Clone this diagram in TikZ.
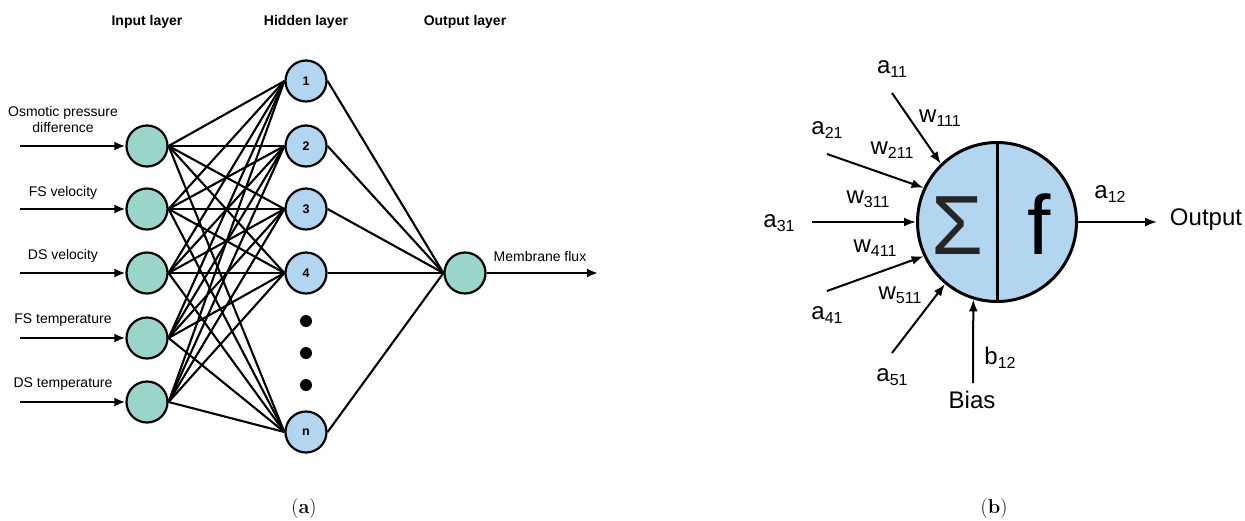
\documentclass[tikz,border=0pt]{standalone}
\usepackage{fontspec}
\newfontfamily\arial{Liberation Sans}
\usetikzlibrary{arrows.meta}
\definecolor{ingreen}{HTML}{99D6C9}
\definecolor{hidblue}{HTML}{B3D6F0}
\newcommand\sbs[1]{\raisebox{-0.15em}{\fontsize{16}{16}\selectfont #1}}
\begin{document}
\begin{tikzpicture}[x=1pt,y=-1pt,
  neuron/.style={circle,draw,line width=2.2pt,minimum size=41pt,inner sep=0pt},
  innode/.style={neuron,fill=ingreen},
  hidnode/.style={neuron,fill=hidblue,font=\arial\bfseries\fontsize{12.5}{14}\selectfont},
  header/.style={font=\arial\bfseries\fontsize{14}{16}\selectfont},
  inlabel/.style={font=\arial\fontsize{14}{16}\selectfont,align=center,inner sep=0pt},
  edge/.style={line width=2.1pt},
  inarrow/.style={line width=2.3pt,-{Latex[length=11pt,width=9pt]}},
  blabel/.style={font=\arial\fontsize{24}{26}\selectfont,inner sep=0pt},
  barrow/.style={line width=2pt,-{Latex[length=12pt,width=9pt]}},
  dot/.style={circle,fill,inner sep=0pt,minimum size=12pt},
  caption/.style={font=\fontsize{20}{22}\selectfont,inner sep=0pt}
]
\path[use as bounding box] (0,0) rectangle (1245,520);

% ---------- panel (a) ----------
\node[header] (hin) at (147,22) {Input layer};
\node[header] (hhid) at (306,22) {Hidden layer};
\node[header] (hout) at (465,22) {Output layer};

\node[innode] (i1) at (147,146) {};
\node[innode] (i2) at (147,209) {};
\node[innode] (i3) at (147,273) {};
\node[innode] (i4) at (147,338) {};
\node[innode] (i5) at (147,402) {};

\node[hidnode] (h1) at (306,81) {1};
\node[hidnode] (h2) at (306,146) {2};
\node[hidnode] (h3) at (306,209) {3};
\node[hidnode] (h4) at (306,273) {4};
\node[hidnode] (hn) at (306,432) {n};
\node[dot] (d1) at (306,321) {};
\node[dot] (d2) at (306,353) {};
\node[dot] (d3) at (306,385) {};

\node[innode] (o) at (465,273) {};

\foreach \i in {1,...,5}
  \foreach \h in {1,2,3,4,n}
    \draw[edge] (i\i.east) -- (h\h.west);
\foreach \h in {1,2,3,4,n}
  \draw[edge] (h\h.east) -- (o.west);

\node[inlabel] (l1) at (63,119) {Osmotic pressure\\difference};
\node[inlabel] (l2) at (63,193) {FS velocity};
\node[inlabel] (l3) at (63,256) {DS velocity};
\node[inlabel] (l4) at (63,320) {FS temperature};
\node[inlabel] (l5) at (63,384) {DS temperature};

\coordinate (a1) at (20,146);
\coordinate (a2) at (20,209);
\coordinate (a3) at (20,273);
\coordinate (a4) at (20,338);
\coordinate (a5) at (20,402);
\foreach \i in {1,...,5}
  \draw[inarrow] (a\i) -- (i\i.west);

\coordinate (oend) at (598,273);
\draw[inarrow] (o.east) -- (oend);
\node[inlabel] (mf) at (540,256) {Membrane flux};

\node[caption] (capa) at (304,509) {(\textbf{a})};

% ---------- panel (b) ----------
\node[circle,draw,line width=3pt,fill=hidblue,minimum size=159pt,inner sep=0pt] (c) at (997,222) {};
\draw[line width=3pt] (c.north) -- (c.south);
\node[font=\arial\fontsize{84}{84}\selectfont,inner sep=0pt,text=black!85] (sig) at (957,226) {Σ};
\node[font=\arial\fontsize{84}{84}\selectfont,inner sep=0pt] (f) at (1039,224) {f};

\coordinate (s1) at (892,93);
\coordinate (s2) at (827,154);
\coordinate (s3) at (812,222);
\coordinate (s4) at (827,291);
\coordinate (s5) at (892,353);
\coordinate (sb) at (973,383);
\coordinate (se) at (1157,222);
\draw[barrow] (s1) -- (c.134);
\draw[barrow] (s2) -- (c.155);
\draw[barrow] (s3) -- (c.west);
\draw[barrow] (s4) -- (c.205);
\draw[barrow] (s5) -- (c.230);
\draw[barrow] (sb) -- (c.253);
\draw[barrow] (c.east) -- (se);

\node[blabel] (ta11) at (892,69) {a\sbs{11}};
\node[blabel] (tw111) at (940,118) {w\sbs{111}};
\node[blabel] (ta21) at (827,130) {a\sbs{21}};
\node[blabel] (tw211) at (892,150) {w\sbs{211}};
\node[blabel] (tw311) at (868,199) {w\sbs{311}};
\node[blabel] (ta31) at (779,223) {a\sbs{31}};
\node[blabel] (tw411) at (875,248) {w\sbs{411}};
\node[blabel] (ta41) at (827,315) {a\sbs{41}};
\node[blabel] (tw511) at (900,295) {w\sbs{511}};
\node[blabel] (ta51) at (892,377) {a\sbs{51}};
\node[blabel] (tb12) at (1000,358) {b\sbs{12}};
\node[blabel] (tbias) at (972,400) {Bias};
\node[blabel] (ta12) at (1110,194) {a\sbs{12}};
\node[blabel] (tout) at (1206,220) {Output};

\node[caption] (capb) at (994,509) {(\textbf{b})};
\end{tikzpicture}
\end{document}
